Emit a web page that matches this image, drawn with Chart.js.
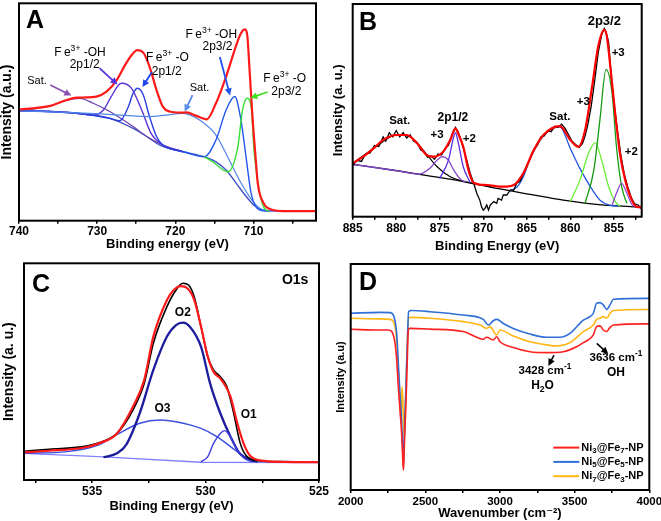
<!DOCTYPE html>
<html><head><meta charset="utf-8">
<script src="https://cdn.jsdelivr.net/npm/chart.js@4.4.1/dist/chart.umd.min.js"></script>
<style>
html,body{margin:0;padding:0;background:#fff;}
#wrap{position:relative;width:661px;height:521px;overflow:hidden;background:#fff;}
canvas{position:absolute;display:block;}
</style></head><body>
<div id="wrap">
<canvas id="cA" width="330" height="260" style="left:0;top:0"></canvas>
<canvas id="cB" width="331" height="260" style="left:330px;top:0"></canvas>
<canvas id="cC" width="330" height="261" style="left:0;top:260px"></canvas>
<canvas id="cD" width="331" height="261" style="left:330px;top:260px"></canvas>
</div>
<script>
// ---------------- DATA ----------------
// Panel A : Fe 2p  (x = binding energy eV, y = intensity a.u.)
const A_MAJOR=[740,730,720,710], A_MINOR=[735,725,715,705];
const A_RED=[[740.0,51.2],[738.2,51.7],[736.0,52.8],[733.9,55.5],[732.6,56.6],[731.4,56.7],[730.1,57.1],[728.8,59.4],[727.5,64.7],[726.3,72.4],[725.4,77.0],[724.9,78.5],[724.1,77.3],[723.3,70.9],[722.4,60.1],[721.6,52.5],[720.7,50.2],[719.4,49.7],[718.6,49.8],[717.3,48.2],[716.0,46.6],[714.8,54.0],[713.5,66.3],[712.2,80.8],[711.6,86.2],[711.1,88.0],[710.8,85.5],[710.5,69.3],[710.1,46.3],[709.7,27.9],[709.45,17.2],[708.8,8.7],[707.5,4.9],[706.3,4.4],[702.0,4.4]];
const A_BG=[[740.0,50.5],[736.0,50.2],[731.8,49.1],[728.4,47.1],[725.4,42.5],[723.3,37.9],[722.0,34.8],[719.0,31.7],[716.3,29.4],[714.8,27.1],[713.5,23.3],[712.2,17.2],[710.9,11.0],[709.7,6.4],[708.4,4.6],[702.0,4.4]];
const A_SAT1=[[740.0,50.5],[736.0,52.8],[733.9,55.5],[732.2,56.3],[730.5,54.0],[728.4,50.2],[725.4,43.3],[723.3,37.9],[721.6,34.8],[719.0,31.7]];
const A_OH12=[[740.0,50.5],[736.0,50.2],[731.8,49.1],[730.5,48.6],[729.2,50.9],[728.2,57.1],[726.9,63.2],[725.6,60.9],[724.3,50.9],[723.1,40.2],[721.8,35.3],[719.0,31.7]];
const A_O12=[[740.0,50.5],[736.0,50.2],[731.8,49.1],[728.4,47.1],[727.1,46.0],[726.0,52.5],[725.4,58.6],[724.8,60.9],[724.1,57.8],[723.3,47.9],[722.4,38.7],[721.6,34.8],[719.0,31.7]];
const A_SAT2=[[740.0,50.5],[733.9,49.8],[729.7,49.1],[725.4,48.2],[723.3,47.9],[721.2,48.6],[719.0,49.4],[716.9,46.3],[714.8,39.4],[713.1,27.9],[711.8,18.7],[710.5,11.0],[709.2,5.7],[708.0,4.4]];
const A_OH32=[[719.0,31.7],[716.3,29.4],[714.8,37.1],[713.5,50.9],[712.4,57.1],[711.6,46.3],[710.9,27.9],[710.3,12.6],[709.2,4.9],[708.0,4.4]];
const A_O32=[[716.3,29.4],[715.2,27.1],[713.3,22.5],[712.0,34.0],[711.4,50.9],[710.8,56.3],[710.3,52.5],[709.9,31.0],[709.2,12.6],[708.6,5.7],[708.0,4.4]];

// Panel B : Ni 2p
const B_MAJOR=[885,880,875,870,865,860,855], B_MINOR=[882.5,877.5,872.5,867.5,862.5,857.5,852.5];
const B_RED=[[885.0,25.1],[883.8,28.2],[882.6,32.1],[881.5,36.1],[879.9,38.4],[878.8,38.4],[877.6,34.5],[876.5,29.0],[875.7,28.2],[874.6,30.6],[873.8,36.1],[873.2,41.5],[872.9,39.2],[872.3,32.9],[871.7,21.9],[871.1,16.0],[869.6,14.9],[867.7,14.1],[866.5,14.9],[865.4,20.4],[864.2,31.3],[863.1,38.4],[861.2,42.6],[860.0,36.1],[859.1,32.9],[858.3,40.8],[857.5,61.1],[856.8,80.0],[856.1,87.8],[855.8,84.6],[855.4,70.5],[854.85,48.6],[854.3,29.8],[853.7,17.2],[853.1,9.4],[852.4,4.7],[851.8,4.4]];
const B_DATA=[[885.0,24.0],[884.5,26.5],[884.0,26.0],[883.5,29.5],[883.0,30.0],[882.5,33.5],[882.0,33.0],[881.5,37.5],[881.2,35.5],[880.8,39.5],[880.4,37.5],[880.0,40.5],[879.6,37.5],[879.2,39.5],[878.8,37.0],[878.4,38.5],[878.0,35.5],[877.6,35.0],[877.2,31.5],[876.8,30.5],[876.4,28.0],[876.0,28.5],[875.6,27.0],[875.2,29.5],[874.8,29.0],[874.4,32.0],[874.0,33.5],[873.6,38.0],[873.2,42.0],[872.9,40.0],[872.6,36.5],[872.2,31.0],[871.8,25.0],[871.5,20.4],[871.1,15.7],[870.75,11.0],[870.4,7.8],[870.2,4.7],[870.0,3.1],[869.8,3.9],[869.6,5.5],[869.4,3.1],[869.2,5.5],[868.8,7.1],[868.45,6.3],[868.3,8.6],[867.9,7.8],[867.7,10.2],[867.3,10.2],[866.9,12.5],[866.5,12.5],[866.15,15.7],[865.8,16.5],[865.4,20.0],[865.0,24.0],[864.6,27.5],[864.2,31.5],[863.8,33.5],[863.4,37.5],[863.0,38.0],[862.6,40.5],[862.2,40.0],[861.8,42.5],[861.4,42.0],[861.0,43.5],[860.6,41.5],[860.2,38.5],[859.8,35.5],[859.4,34.0],[859.0,32.5],[858.6,34.5],[858.3,38.0],[858.0,43.0],[857.6,52.0],[857.2,64.0],[856.8,77.0],[856.4,85.5],[856.1,88.5],[855.9,87.0],[855.6,82.0],[855.3,66.0],[855.0,54.0],[854.6,41.0],[854.2,29.0],[853.8,20.0],[853.4,14.0],[853.0,9.0],[852.6,6.0],[852.2,5.5],[851.9,4.0],[851.8,5.5]];
const B_BG=[[885.0,24.6],[879.9,21.6],[876.1,19.1],[872.3,16.5],[868.45,13.3],[864.6,10.5],[860.8,7.8],[857.0,5.8],[853.1,4.7],[851.8,4.4]];
const B_SATA=[[885.0,25.1],[882.6,32.1],[879.9,38.4],[878.4,37.6],[876.9,31.3],[875.3,23.5],[873.8,18.8],[871.5,16.0],[869.0,13.9]];
const B_P3A=[[885.0,24.6],[879.9,21.6],[877.3,20.0],[876.1,22.9],[875.2,27.0],[874.7,28.2],[874.0,26.5],[873.4,22.0],[872.6,17.5],[872.0,16.3]];
const B_P2A=[[875.0,18.0],[874.0,26.6],[873.4,37.6],[873.2,39.5],[872.9,35.3],[872.3,23.5],[871.5,16.0]];
const B_SATB=[[867.0,12.2],[866.15,13.8],[865.4,18.8],[864.6,27.4],[863.1,37.9],[861.2,42.3],[860.0,32.1],[858.9,22.7],[857.7,14.1],[856.6,7.8],[855.4,5.3],[854.3,4.9]];
const B_P3B=[[860.0,7.1],[858.9,17.2],[857.9,29.8],[857.15,34.8],[856.4,26.6],[855.6,14.1],[854.85,7.1],[854.3,4.9]];
const B_P3C=[[858.3,6.3],[857.3,21.9],[856.6,45.5],[855.9,69.3],[855.2,58.0],[854.7,32.9],[854.1,14.1],[853.5,6.3]];
const B_P2B=[[855.2,5.5],[854.7,11.0],[854.1,15.7],[853.5,11.0],[852.9,5.5],[852.5,4.6]];

// Panel C : O 1s
const C_MAJOR=[535,530,525], C_MINOR=[537.5,532.5,527.5];
const C_DATA=[[538.0,13.2],[536.9,14.2],[535.4,15.4],[534.7,17.2],[533.9,21.5],[533.2,32.3],[532.7,44.6],[532.3,63.1],[531.7,80.0],[531.3,87.7],[531.0,90.8],[530.75,90.0],[530.5,84.6],[530.2,70.8],[529.9,56.9],[529.65,50.8],[529.35,47.7],[529.06,43.1],[528.76,30.8],[528.47,16.9],[528.17,10.8],[527.58,8.8],[526.55,8.5],[525.0,8.2]];
const C_FIT=[[538.0,12.8],[536.9,13.5],[535.4,14.9],[534.7,16.9],[533.9,21.5],[533.2,33.8],[532.7,46.2],[532.3,66.2],[531.7,83.1],[531.4,87.7],[531.1,89.5],[530.8,88.5],[530.5,83.1],[530.2,70.8],[529.9,56.9],[529.65,50.0],[529.3,46.2],[528.9,38.5],[528.6,26.2],[528.3,16.2],[528.0,10.8],[527.4,8.8],[526.55,8.3],[525.0,8.2]];
const C_BG=[[538.0,12.3],[534.7,10.8],[530.2,8.2],[525.0,8.0]];
const C_O3=[[538.0,12.3],[536.1,13.1],[534.7,16.2],[533.9,21.0],[532.9,26.2],[532.0,27.7],[531.3,26.9],[530.2,23.8],[529.5,20.0],[528.8,14.6],[528.3,10.8],[527.9,8.5]];
const C_O2=[[534.5,10.5],[533.9,12.3],[533.5,16.2],[532.9,30.8],[532.3,50.8],[531.7,66.2],[531.3,71.5],[531.0,72.6],[530.7,70.8],[530.2,61.5],[529.8,44.6],[529.35,30.8],[528.9,20.0],[528.5,12.3],[528.0,9.2],[527.7,8.5]];
const C_O1=[[530.2,8.5],[529.9,10.8],[529.65,16.9],[529.35,21.5],[529.17,22.8],[528.9,20.0],[528.6,13.8],[528.3,10.0],[528.0,8.5]];

// Panel D : FTIR (x = wavenumber, y = intensity a.u.)
const D_MAJOR=[2000,2500,3000,3500,4000], D_MINOR=[2250,2750,3250,3750];
const D_NAMES=[[['Ni'],['3',2],['@Fe'],['7',2],['-NP']],[['Ni'],['5',2],['@Fe'],['5',2],['-NP']],[['Ni'],['7',2],['@Fe'],['3',2],['-NP']]];
const D_RED=[[2000,71.1],[2196,70.8],[2252,70.8],[2275,70.1],[2297,64.9],[2308,57.5],[2319,45.7],[2330,35.4],[2341,25.1],[2348,14.7],[2353,8.8],[2357,14.7],[2364,28.0],[2371,39.8],[2379,57.5],[2386,70.8],[2397,71.5],[2531,71.2],[2754,70.1],[2844,67.6],[2888,66.7],[2911,67.6],[2955,66.4],[2978,67.8],[3000,65.6],[3089,63.1],[3201,61.2],[3312,60.8],[3424,61.2],[3513,63.4],[3558,65.2],[3591,66.4],[3625,68.6],[3647,72.3],[3670,72.6],[3692,70.8],[3714,70.1],[3732,71.5],[3759,73.0],[4000,73.5]];
const D_BLUE=[[2000,78.2],[2196,78.6],[2263,78.5],[2286,77.4],[2308,69.3],[2319,56.0],[2330,42.8],[2341,31.0],[2348,19.2],[2353,10.3],[2357,19.2],[2364,33.9],[2371,48.7],[2379,64.9],[2388,78.9],[2408,79.4],[2531,78.9],[2754,77.4],[2888,75.5],[2922,73.0],[2955,74.9],[2978,75.5],[3022,73.7],[3089,71.5],[3201,69.0],[3312,67.6],[3402,67.6],[3469,69.3],[3558,75.2],[3603,76.7],[3625,78.2],[3647,82.6],[3670,82.9],[3692,81.9],[3714,79.9],[3737,81.9],[3759,84.4],[4000,84.8]];
const D_ORANGE=[[2000,76.0],[2196,75.7],[2263,75.5],[2286,74.5],[2308,66.4],[2319,53.1],[2330,39.8],[2337,32.4],[2344,45.7],[2350,38.3],[2357,23.6],[2364,32.4],[2371,45.7],[2379,63.4],[2388,76.0],[2408,76.4],[2531,76.0],[2754,74.5],[2866,73.0],[2911,71.5],[2933,72.3],[2978,68.6],[3000,70.8],[3089,68.1],[3201,65.6],[3312,64.2],[3379,63.7],[3469,65.2],[3558,70.1],[3625,73.0],[3647,75.5],[3670,76.0],[3692,76.7],[3714,76.0],[3737,78.2],[3759,79.4],[4000,79.9]];

// ---------------- HELPERS ----------------
const FONT="'Liberation Sans', Arial, 'DejaVu Sans', sans-serif";
const P=a=>a.map(p=>({x:p[0],y:p[1]}));
function L(data,color,w,smooth=true){return {data:P(data),borderColor:color,backgroundColor:color,borderWidth:w,pointRadius:0,pointHoverRadius:0,fill:false,tension:0,cubicInterpolationMode:smooth?'monotone':'default'};}
function xAxis(o){return {type:'linear',position:'bottom',min:o.min,max:o.max,reverse:!!o.rev,
  afterBuildTicks:s=>{s.ticks=o.major.concat(o.minor).sort((a,b)=>a-b).map(v=>({value:v}));},
  afterFit:s=>{s.height=o.h;s.paddingLeft=0;s.paddingRight=0;},
  ticks:{autoSkip:false,maxRotation:0,minRotation:0,padding:o.pad,color:'#000',font:{family:FONT,size:o.ts||12,weight:'bold'},callback:v=>o.major.includes(v)?String(v):''},
  grid:{display:true,drawOnChartArea:false,drawTicks:true,tickLength:3,color:'#000',lineWidth:1.5},
  border:{display:false},
  title:{display:true,text:o.title,color:'#000',font:{family:FONT,size:13,weight:'bold',lineHeight:1},padding:{top:0,bottom:0}}};}
function yAxis(o){return {type:'linear',position:'left',min:0,max:100,
  afterFit:s=>{s.width=o.w;},
  ticks:{display:false},grid:{display:false},border:{display:false},
  title:{display:true,text:o.title,color:'#000',font:{family:FONT,size:o.size,weight:'bold',lineHeight:1},padding:{top:o.pad,bottom:0}}};}
function rich(ctx,segs,x,y,size,weight,color,align){
  const fs=m=>m?size*0.72:size;let w=0;
  segs.forEach(s=>{ctx.font=`${weight} ${fs(s[1])}px ${FONT}`;w+=ctx.measureText(s[0]).width;});
  let cx=align==='left'?x:x-w/2;
  ctx.fillStyle=color;ctx.textBaseline='middle';ctx.textAlign='left';
  segs.forEach(s=>{ctx.font=`${weight} ${fs(s[1])}px ${FONT}`;const dy=s[1]===1?-size*0.38:(s[1]===2?size*0.3:0);ctx.fillText(s[0],cx,y+dy);cx+=ctx.measureText(s[0]).width;});
}
function arrow(ctx,x0,y0,x1,y1,color,w){
  const a=Math.atan2(y1-y0,x1-x0),hl=7,hw=3.5;
  ctx.strokeStyle=color;ctx.fillStyle=color;ctx.lineWidth=w;
  ctx.beginPath();ctx.moveTo(x0,y0);ctx.lineTo(x1-hl*0.8*Math.cos(a),y1-hl*0.8*Math.sin(a));ctx.stroke();
  ctx.beginPath();ctx.moveTo(x1,y1);
  ctx.lineTo(x1-hl*Math.cos(a)+hw*Math.sin(a),y1-hl*Math.sin(a)-hw*Math.cos(a));
  ctx.lineTo(x1-hl*Math.cos(a)-hw*Math.sin(a),y1-hl*Math.sin(a)+hw*Math.cos(a));
  ctx.closePath();ctx.fill();
}
const deco={id:'deco',afterDatasetsDraw(chart,args,o){
  const ctx=chart.ctx,ca=chart.chartArea,sx=chart.scales.x,sy=chart.scales.y;
  const X=v=>sx.getPixelForValue(v),Y=v=>sy.getPixelForValue(v);
  ctx.save();
  (o.arrows||[]).forEach(a=>arrow(ctx,X(a.f[0]),Y(a.f[1]),X(a.t[0]),Y(a.t[1]),a.c,a.w||1.8));
  (o.notes||[]).forEach(n=>rich(ctx,n.s,X(n.x),Y(n.y),n.size,n.wt||'normal','#000','center'));
  if(o.legend){o.legend.forEach((e,i)=>{const yy=ca.bottom-o.legend.length*14.3+i*14.3+0.5;
    ctx.strokeStyle=e.c;ctx.lineWidth=2;ctx.beginPath();ctx.moveTo(ca.right-96,yy);ctx.lineTo(ca.right-70,yy);ctx.stroke();
    rich(ctx,e.s,ca.right-68,yy,11,'bold','#000','left');});}
  ctx.strokeStyle='#000';ctx.lineWidth=2;ctx.strokeRect(ca.left,ca.top,ca.width,ca.height);
  ctx.fillStyle='#000';ctx.font=`bold 25px ${FONT}`;ctx.textBaseline='alphabetic';ctx.textAlign='left';
  ctx.fillText(o.letter,ca.left+o.lx,ca.top+o.ly);
  ctx.restore();}};
function make(id,datasets,scales,pad,decoOpts){
  return new Chart(document.getElementById(id),{type:'line',data:{datasets},
    options:{responsive:false,animation:false,devicePixelRatio:1,parsing:false,normalized:true,
      layout:{padding:pad},scales,
      plugins:{legend:{display:false},tooltip:{enabled:false},deco:decoOpts}},plugins:[deco]});
}
const FE='F\u2009e';

// ---------------- PANEL A ----------------
make('cA',[
  L(A_RED,'#ff1a1a',2.2),
  L(A_O32,'#33e033',1.4),
  L(A_OH32,'#2255ee',1.4),
  L(A_SAT2,'#4f86e8',1.2),
  L(A_O12,'#2a3fe0',1.4),
  L(A_OH12,'#5a35d8',1.4),
  L(A_SAT1,'#6a3fa8',1.2),
  L(A_BG,'#4050c8',1.4)
],{x:xAxis({min:702,max:740,rev:true,major:A_MAJOR,minor:A_MINOR,pad:0.5,h:29.8,title:'Binding energy (eV)'}),
   y:yAxis({w:19,size:14,pad:0.5,title:'Intensity (a.u.)'})},
 {left:0,right:14,top:3.3,bottom:9.5},
 {letter:'A',lx:7,ly:24.7,
  notes:[
   {x:737.7,y:64.3,s:[['Sat.']],size:11},
   {x:732.2,y:77.1,s:[[FE],['3+',1],[' -OH']],size:12},
   {x:731.6,y:71.6,s:[['2p1/2']],size:12},
   {x:721.0,y:74.8,s:[[FE],['3+',1],[' -O']],size:12},
   {x:721.1,y:68.4,s:[['2p1/2']],size:12},
   {x:716.9,y:61.0,s:[['Sat.']],size:11},
   {x:715.4,y:85.4,s:[[FE],['3+',1],[' -OH']],size:12},
   {x:714.6,y:79.9,s:[['2p3/2']],size:12},
   {x:706.0,y:65.2,s:[[FE],['3+',1],[' -O']],size:12},
   {x:705.8,y:59.2,s:[['2p3/2']],size:12}],
  arrows:[
   {f:[736.0,62.4],t:[733.3,57.6],c:'#8a4fb0'},
   {f:[729.7,70.2],t:[727.4,62.6],c:'#5533dd'},
   {f:[723.0,68.4],t:[724.2,61.5],c:'#2244ee'},
   {f:[717.8,57.8],t:[718.8,50.2],c:'#5a8ae8'},
   {f:[714.3,75.3],t:[713.0,57.6],c:'#2255ee'},
   {f:[708.2,59.2],t:[710.4,56.4],c:'#44dd22'}]});

// ---------------- PANEL B ----------------
make('cB',[
  L(B_RED,'#ff0000',2.2),
  L(B_DATA,'#000000',1.3,false),
  L(B_P2B,'#8a3fd0',1.2),
  L(B_P3C,'#129a12',1.3),
  L(B_P3B,'#66ee33',1.3),
  L(B_SATB,'#2255dd',1.3),
  L(B_P2A,'#5a2fe0',1.3),
  L(B_P3A,'#7f45c8',1.3),
  L(B_SATA,'#000000',1.2),
  L(B_BG,'#000000',1.3)
],{x:xAxis({min:851.8,max:885,rev:true,major:B_MAJOR,minor:B_MINOR,pad:2.1,h:35.8,title:'Binding Energy (eV)'}),
   y:yAxis({w:22.7,size:13,pad:1.5,title:'Intensity (a. u.)'})},
 {left:0,right:19.3,top:4,bottom:7.5},
 {letter:'B',lx:6.3,ly:26,
  notes:[
   {x:879.6,y:45.0,s:[['Sat.']],size:11.5,wt:'bold'},
   {x:875.3,y:38.4,s:[['+3']],size:11.5,wt:'bold'},
   {x:873.5,y:46.4,s:[['2p1/2']],size:12,wt:'bold'},
   {x:871.6,y:36.5,s:[['+2']],size:11.5,wt:'bold'},
   {x:861.2,y:46.9,s:[['Sat.']],size:11.5,wt:'bold'},
   {x:858.5,y:53.9,s:[['+3']],size:11.5,wt:'bold'},
   {x:856.1,y:92.0,s:[['2p3/2']],size:13,wt:'bold'},
   {x:854.5,y:77.0,s:[['+3']],size:11.5,wt:'bold'},
   {x:853.0,y:30.4,s:[['+2']],size:11.5,wt:'bold'}]});

// ---------------- PANEL C ----------------
make('cC',[
  L(C_FIT,'#ff1a1a',2.2),
  L(C_DATA,'#000000',1.6),
  L(C_O1,'#3d3de0',1.4),
  L(C_O2,'#1c1c9c',2.3),
  L(C_O3,'#3b4fe0',1.4),
  L(C_BG,'#8080ff',1.4,false)
],{x:xAxis({min:525,max:538,rev:true,major:C_MAJOR,minor:C_MINOR,pad:1.8,h:32.5,title:'Binding Energy (eV)'}),
   y:yAxis({w:24,size:14,pad:2,title:'Intensity (a. u.)'})},
 {left:0,right:11,top:3.3,bottom:8.5},
 {letter:'C',lx:8,ly:28.7,
  notes:[
   {x:526.05,y:92.3,s:[['O1s']],size:14,wt:'bold'},
   {x:531.0,y:77.1,s:[['O2']],size:12,wt:'bold'},
   {x:531.9,y:32.8,s:[['O3']],size:12,wt:'bold'},
   {x:528.1,y:30.0,s:[['O1']],size:12,wt:'bold'}]});

// ---------------- PANEL D ----------------
make('cD',[
  L(D_RED,'#ff2020',1.6),
  L(D_BLUE,'#2f6fd6',1.6),
  L(D_ORANGE,'#ffb612',1.6)
],{x:xAxis({min:2000,max:4000,rev:false,major:D_MAJOR,minor:D_MINOR,pad:1.8,h:29.5,ts:11.5,title:'Wavenumber (cm\u207B\u00B2)'}),
   y:yAxis({w:20.7,size:11,pad:5,title:'Intensity (a.u)'})},
 {left:0,right:11.7,top:4,bottom:1.5},
 {letter:'D',lx:8.3,ly:26,
  notes:[
   {x:3301,y:52.7,s:[['3428 cm'],['-1',1]],size:11.5,wt:'bold'},
   {x:3285,y:46.0,s:[['H'],['2',2],['O']],size:12,wt:'bold'},
   {x:3776,y:58.3,s:[['3636 cm'],['-1',1]],size:11.5,wt:'bold'},
   {x:3777,y:51.9,s:[['OH']],size:12,wt:'bold'}],
  arrows:[
   {f:[3362,59.7],t:[3324,54.9],c:'#000',w:1.5},
   {f:[3648,64.9],t:[3725,60.2],c:'#000',w:1.5}],
  legend:[{c:'#ff2020',s:D_NAMES[0]},{c:'#2f6fd6',s:D_NAMES[1]},{c:'#ffb612',s:D_NAMES[2]}]});
</script>
</body></html>
